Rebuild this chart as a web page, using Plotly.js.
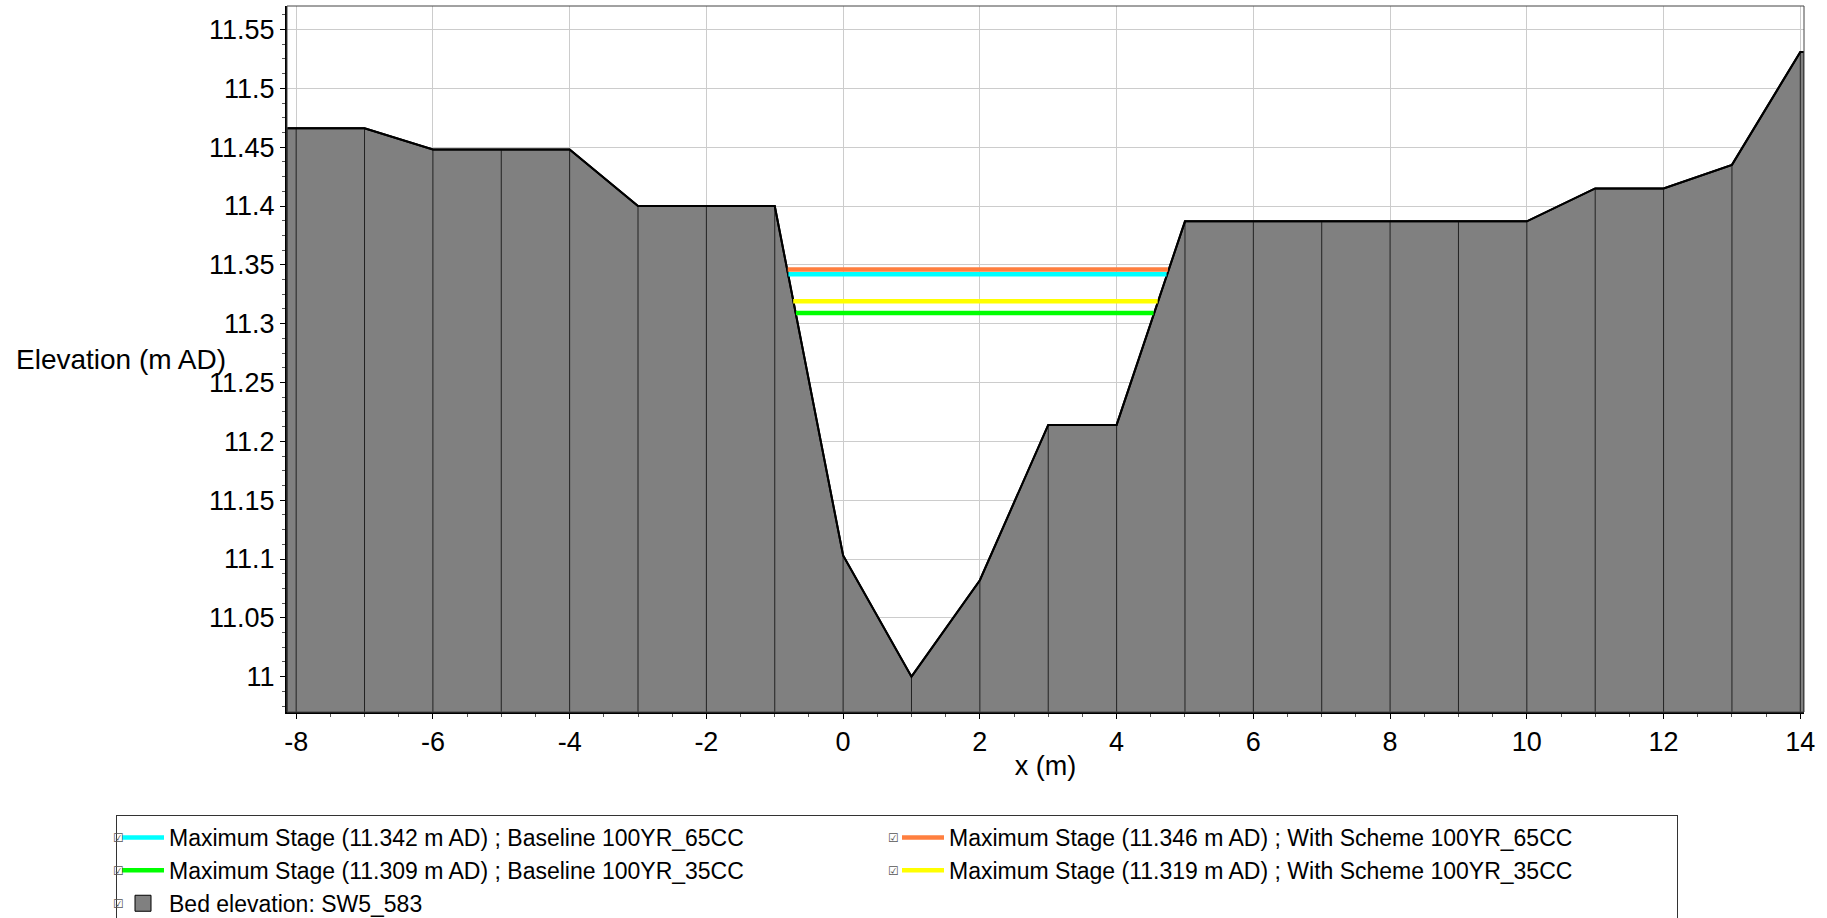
<!DOCTYPE html>
<html>
<head>
<meta charset="utf-8">
<script src="https://cdn.plot.ly/plotly-3.0.1.min.js"></script>
<style>
html, body { margin: 0; padding: 0; background: #ffffff; }
#chart { width: 1827px; height: 918px; }
</style>
</head>
<body>
<div id="chart"></div>
<script>
// Bed cross-section (chainage x in m, elevation in m AD)
const bedX = [-8.13, -8, -7, -6, -5, -4, -3, -2, -1, 0, 1, 2, 3, 4, 5, 6, 7, 8, 9, 10, 11, 12, 13, 14, 14.05];
const bedY = [11.466, 11.466, 11.466, 11.448, 11.448, 11.448, 11.400, 11.400, 11.400, 11.103, 11.000, 11.082, 11.214, 11.214, 11.387, 11.387, 11.387, 11.387, 11.387, 11.387, 11.415, 11.415, 11.435, 11.531, 11.531];
const bedName = "Bed elevation: SW5_583";

// Maximum stage lines
const stageNames = [
  "Maximum Stage (11.342 m AD) ; Baseline 100YR_65CC",
  "Maximum Stage (11.346 m AD) ; With Scheme 100YR_65CC",
  "Maximum Stage (11.309 m AD) ; Baseline 100YR_35CC",
  "Maximum Stage (11.319 m AD) ; With Scheme 100YR_35CC"
];
const stageLevels = [11.342, 11.346, 11.309, 11.319];
const stageLeftX  = [-0.80, -0.81, -0.69, -0.73];
const stageRightX = [4.73, 4.75, 4.54, 4.60];
const stageColors = ["#00ffff", "#ff7f3f", "#00ff00", "#ffff00"];
const legendRanks = [1, 2, 3, 4];

// Tick labels
const xTickVals = [-8, -6, -4, -2, 0, 2, 4, 6, 8, 10, 12, 14];
const xTickText = ["-8", "-6", "-4", "-2", "0", "2", "4", "6", "8", "10", "12", "14"];

const FONT = "Liberation Sans, Arial, sans-serif";
const yBottom = 10.97;

// vertical divider lines at each bed point
const vx = [], vy = [];
for (let i = 0; i < bedX.length; i++) {
  vx.push(bedX[i], bedX[i], null);
  vy.push(yBottom - 0.1, bedY[i], null);
}

const traces = [];
traces.push({
  type: "scatter", mode: "lines", name: bedName, showlegend: false,
  x: bedX, y: bedY, fill: "tozeroy", fillcolor: "#808080",
  line: { color: "#000000", width: 2 }, hoverinfo: "x+y"
});
traces.push({
  type: "scatter", mode: "lines", x: vx, y: vy, showlegend: false,
  line: { color: "#222222", width: 1 }, hoverinfo: "skip"
});
traces.push({
  type: "scatter", mode: "lines", x: bedX, y: bedY, showlegend: false,
  line: { color: "#000000", width: 2 }, hoverinfo: "skip"
});
// legend entry for the bed (square swatch)
traces.push({
  type: "scatter", mode: "markers", name: bedName, x: [null], y: [null],
  marker: { symbol: "square", size: 16, color: "#808080", line: { color: "#000000", width: 1 } },
  legendrank: 5, showlegend: true, hoverinfo: "skip"
});
const drawOrder = [2, 3, 0, 1];
for (const i of drawOrder) {
  traces.push({
    type: "scatter", mode: "lines", name: stageNames[i],
    x: [stageLeftX[i], stageRightX[i]], y: [stageLevels[i], stageLevels[i]],
    line: { color: stageColors[i], width: 4.5 },
    legendrank: legendRanks[i]
  });
}

// plot-area geometry (pixels) for placing legend decorations
const L = 287, R = 1804, T = 6, B = 712;
const px = (x) => (x - L) / (R - L);
const py = (y) => (B - y) / (B - T);

const legendTop = 815;
const rowStep = 23 * 1.3 + 3;
const rowY = [legendTop + 23, legendTop + 23 + rowStep, legendTop + 23 + 2 * rowStep];
const boxX = [118.5, 893];
const checkAnn = [];
const checkPos = [[0, 0], [1, 0], [0, 1], [1, 1], [0, 2]];
for (const [c, r] of checkPos) {
  checkAnn.push({
    text: "\u2611", xref: "paper", yref: "paper",
    x: px(boxX[c]), y: py(rowY[r]), xanchor: "center", yanchor: "middle",
    showarrow: false, font: { family: "DejaVu Sans", size: 12, color: "#555555" }
  });
}

const layout = {
  width: 1827, height: 918,
  margin: { l: L, r: 1827 - R, t: T, b: 918 - B, autoexpand: false },
  paper_bgcolor: "#ffffff", plot_bgcolor: "#ffffff",
  font: { family: FONT, size: 27, color: "#000000" },
  showlegend: true,
  xaxis: {
    range: [-8.134, 14.054], tickmode: "array", tickvals: xTickVals, ticktext: xTickText,
    showgrid: true, gridcolor: "#cccccc", gridwidth: 1,
    zeroline: false, showline: true, linecolor: "#000000", linewidth: 2,
    ticks: "outside", ticklen: 5, tickcolor: "#000000", tickwidth: 1,
    minor: { dtick: 0.5, tick0: 0, ticks: "outside", ticklen: 3, tickcolor: "#555555", showgrid: false },
    tickfont: { family: FONT, size: 27, color: "#000000" },
    title: { text: "x (m)", font: { family: FONT, size: 27, color: "#000000" }, standoff: 0 },
    layer: "above traces"
  },
  yaxis: {
    range: [10.970, 11.570], tick0: 11, dtick: 0.05,
    showgrid: true, gridcolor: "#cccccc", gridwidth: 1,
    zeroline: false, showline: true, linecolor: "#000000", linewidth: 2,
    ticks: "outside", ticklen: 5, tickcolor: "#000000", tickwidth: 1,
    minor: { dtick: 0.0125, tick0: 11, ticks: "outside", ticklen: 3, tickcolor: "#555555", showgrid: false },
    tickfont: { family: FONT, size: 27, color: "#000000" },
    layer: "above traces"
  },
  legend: {
    orientation: "h",
    xref: "paper", yref: "paper",
    x: px(116), y: py(legendTop), xanchor: "left", yanchor: "top",
    bordercolor: "#333333", borderwidth: 1, bgcolor: "#ffffff",
    font: { family: FONT, size: 23, color: "#000000" },
    entrywidth: 723, entrywidthmode: "pixels",
    itemwidth: 42, itemsizing: "trace", traceorder: "normal"
  },
  shapes: [{
    type: "rect", xref: "paper", yref: "paper", x0: 0, x1: 1, y0: 0, y1: 1,
    line: { color: "#444444", width: 1 }, layer: "above"
  }],
  annotations: [{
    text: "Elevation (m AD)", xref: "paper", yref: "paper",
    x: px(14), y: 0.5, xanchor: "left", yanchor: "middle",
    showarrow: false, font: { family: FONT, size: 28, color: "#000000" }
  }].concat(checkAnn)
};

Plotly.newPlot("chart", traces, layout, { displayModeBar: false, staticPlot: true });
</script>
</body>
</html>
